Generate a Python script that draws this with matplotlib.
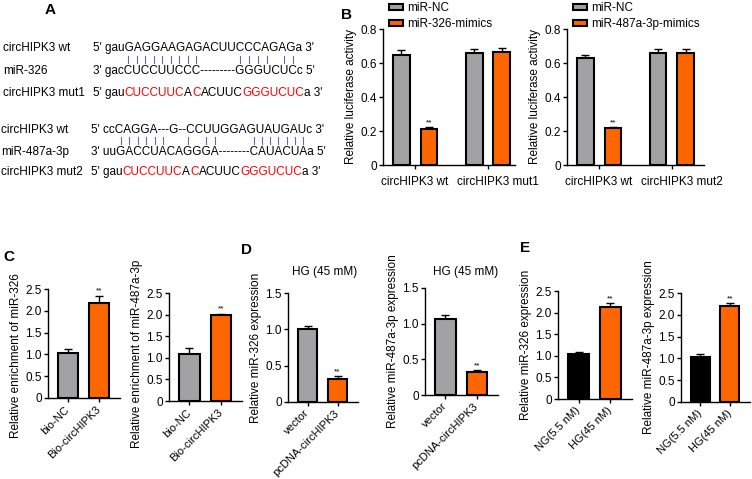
import matplotlib
matplotlib.use("Agg")
import numpy as np
import matplotlib.pyplot as plt
import matplotlib.transforms as mtransforms
from matplotlib.font_manager import FontProperties
from matplotlib.patches import Patch

plt.rcParams['font.family'] = ['Liberation Sans', 'DejaVu Sans']
plt.rcParams['font.size'] = 8.5

W, H = 752, 479
GRAY = '#a2a2a6'
ORANGE = '#ff6600'
BLACK = '#000000'
RED = '#ff0000'
TICKBLUE = '#5b6ea6'

# ---- panel A: sequences ----
seq1_wt = "5' gauGAGGAAGAGACUUCCCAGAGa 3'"
seq1_mir = "3' gacCUCCUUCCC---------GGGUCUCc 5'"
seq1_mut = [("5' gau", BLACK), ("CUCCUUC", RED), ("A", BLACK), ("C", RED),
            ("ACUUC", BLACK), ("GGGUCUC", RED), ("a 3'", BLACK)]
pairs1 = [6, 7, 8, 9, 10, 11, 12, 13, 14, 24, 25, 26, 27, 29, 30]

seq2_wt = "5' ccCAGGA---G--CCUUGGAGUAUGAUc 3'"
seq2_mir = "3' uuGACCUACAGGGA--------CAUACUAa 5'"
seq2_mut = seq1_mut
pairs2 = [5, 6, 7, 8, 9, 10, 13, 15, 16, 25, 26, 27, 28, 29, 30, 31]

# ---- panel B: luciferase ----
b_groups1 = ['circHIPK3 wt', 'circHIPK3 mut1']
b_groups2 = ['circHIPK3 wt', 'circHIPK3 mut2']
b1_nc = [0.65, 0.66]
b1_nc_err = [0.025, 0.025]
b1_mim = [0.21, 0.665]
b1_mim_err = [0.015, 0.025]
b2_nc = [0.63, 0.66]
b2_nc_err = [0.02, 0.025]
b2_mim = [0.215, 0.66]
b2_mim_err = [0.01, 0.025]

# ---- panel C: pull-down ----
c_labels = ['bio-NC', 'Bio-circHIPK3']
c1_vals = [1.04, 2.18]
c1_err = [0.08, 0.16]
c2_vals = [1.09, 2.0]
c2_err = [0.13, 0.02]

# ---- panel D: overexpression ----
d_labels = ['vector', 'pcDNA-circHIPK3']
d1_vals = [1.01, 0.31]
d1_err = [0.03, 0.045]
d2_vals = [1.06, 0.32]
d2_err = [0.055, 0.03]

# ---- panel E: glucose ----
e_labels = ['NG(5.5 nM)', 'HG(45 nM)']
e1_vals = [1.04, 2.12]
e1_err = [0.04, 0.1]
e2_vals = [1.04, 2.2]
e2_err = [0.05, 0.06]

fig = plt.figure(figsize=(W / 100, H / 100), dpi=100)
renderer = fig.canvas.get_renderer()
seq_font = FontProperties(family='Liberation Sans', size=8.5)


def fx(px):
    return px / W


def fy(py):
    return 1 - py / H


def text_w(s):
    w, h, d = renderer.get_text_width_height_descent(s, seq_font, ismath=False)
    return w


def seq_line(x, y, segments):
    pos = x
    for s, col in segments:
        fig.text(fx(pos), fy(y), s, color=col, fontproperties=seq_font,
                 ha='left', va='center')
        pos += text_w(s)


def pair_ticks(x, y0, y1, ref, idx):
    for i in idx:
        cx = x + text_w(ref[:i]) + text_w(ref[i]) / 2
        fig.add_artist(plt.Line2D([fx(cx), fx(cx)], [fy(y0), fy(y1)],
                                  color=TICKBLUE, lw=0.8))


fig.text(fx(50), fy(10), 'A', fontsize=11, fontweight='bold', ha='center', va='center')
fig.text(fx(3), fy(48), 'circHIPK3 wt', fontproperties=seq_font, va='center')
seq_line(93, 48, [(seq1_wt, BLACK)])
pair_ticks(93, 56, 63, seq1_mir, pairs1)
fig.text(fx(3), fy(71), 'miR-326', fontproperties=seq_font, va='center')
seq_line(93, 71, [(seq1_mir, BLACK)])
fig.text(fx(3), fy(93), 'circHIPK3 mut1', fontproperties=seq_font, va='center')
seq_line(93, 93, seq1_mut)

fig.text(fx(1), fy(130), 'circHIPK3 wt', fontproperties=seq_font, va='center')
seq_line(91, 130, [(seq2_wt, BLACK)])
pair_ticks(91, 137, 144, seq2_mir, pairs2)
fig.text(fx(1), fy(152), 'miR-487a-3p', fontproperties=seq_font, va='center')
seq_line(91, 152, [(seq2_mir, BLACK)])
fig.text(fx(1), fy(172), 'circHIPK3 mut2', fontproperties=seq_font, va='center')
seq_line(91, 172, seq2_mut)


def make_ax(x0, yt, x1, yb):
    ax = fig.add_axes([fx(x0), fy(yb), (x1 - x0) / W, (yb - yt) / H])
    for s in ['top', 'right']:
        ax.spines[s].set_visible(False)
    for s in ['left', 'bottom']:
        ax.spines[s].set_linewidth(1.0)
    ax.tick_params(length=3, width=1.0, labelsize=8.5, pad=1.5)
    ax.yaxis.set_major_formatter(plt.FuncFormatter(
        lambda v, p: '0' if v == 0 else f'{v:.1f}'))
    return ax


def stars(ax, x, top):
    ax.text(x, top, '**', ha='center', va='bottom', fontsize=6)


def grouped(ax, groups, nc, nc_err, mim, mim_err, ylabel, xlim):
    x = np.arange(len(groups))
    off, w = 0.19, 0.23
    ax.bar(x - off, nc, w, color=GRAY, edgecolor='black', linewidth=1.5, zorder=3)
    ax.bar(x + off, mim, w, color=ORANGE, edgecolor='black', linewidth=1.5, zorder=3)
    ax.errorbar(x - off, nc, yerr=[np.zeros(len(nc)), nc_err], fmt='none',
                ecolor='black', elinewidth=1, capsize=3, capthick=1, zorder=2)
    ax.errorbar(x + off, mim, yerr=[np.zeros(len(mim)), mim_err], fmt='none',
                ecolor='black', elinewidth=1, capsize=3, capthick=1, zorder=2)
    stars(ax, x[0] + off, mim[0] + mim_err[0] + 0.005)
    ax.set_xticks(x)
    ax.set_xticklabels(groups)
    ax.tick_params(axis='x', pad=5)
    # second group label sits a little right of its tick, as in the figure
    lab = ax.get_xticklabels()[1]
    lab.set_transform(lab.get_transform() +
                      mtransforms.ScaledTranslation(0.1, 0, fig.dpi_scale_trans))
    ax.set_xlim(*xlim)
    ax.set_ylim(0, 0.8)
    ax.set_yticks([0, 0.2, 0.4, 0.6, 0.8])
    ax.set_ylabel(ylabel, labelpad=2)


def pair(ax, labels, vals, err, colors, ylim, yticks, ylabel, label_y=None):
    x = np.arange(len(labels))
    ax.bar(x, vals, 0.65, color=colors, edgecolor='black', linewidth=1.5, zorder=3)
    ax.errorbar(x, vals, yerr=[np.zeros(len(vals)), err], fmt='none',
                ecolor='black', elinewidth=1, capsize=3, capthick=1, zorder=2)
    stars(ax, x[1], vals[1] + err[1] + ylim * 0.01)
    ax.set_xticks(x)
    ax.set_xticklabels(labels, rotation=45, ha='right', va='center',
                       rotation_mode='anchor', fontsize=8)
    ax.tick_params(axis='x', pad=4)
    ax.set_xlim(-0.65, 1.68)
    ax.set_ylim(0, ylim)
    ax.set_yticks(yticks)
    ax.set_ylabel(ylabel, labelpad=2)
    if label_y is not None:
        ax.yaxis.label.set_y(label_y)


# B
fig.text(fx(347), fy(15), 'B', fontsize=11, fontweight='bold', ha='center', va='center')
axb1 = make_ax(383, 29, 515, 165)
grouped(axb1, b_groups1, b1_nc, b1_nc_err, b1_mim, b1_mim_err,
        'Relative luciferase activity', (-0.44, 1.37))
axb2 = make_ax(567, 29, 704, 165)
grouped(axb2, b_groups2, b2_nc, b2_nc_err, b2_mim, b2_mim_err,
        'Relative luciferase activity', (-0.44, 1.44))

for lx, name in [(389, 'miR-326-mimics'), (573, 'miR-487a-3p-mimics')]:
    handles = [Patch(facecolor=GRAY, edgecolor='black', linewidth=1.5),
               Patch(facecolor=ORANGE, edgecolor='black', linewidth=1.5)]
    fig.legend(handles, ['miR-NC', name], loc='upper left',
               bbox_to_anchor=(fx(lx), fy(2)), frameon=False, fontsize=8.5,
               handlelength=1.2, handleheight=0.35, handletextpad=0.3,
               labelspacing=0.35, borderpad=0, borderaxespad=0)

# C
fig.text(fx(9), fy(257), 'C', fontsize=11, fontweight='bold', ha='center', va='center')
axc1 = make_ax(48, 289, 120, 398)
pair(axc1, c_labels, c1_vals, c1_err, [GRAY, ORANGE], 2.5,
     [0, 0.5, 1.0, 1.5, 2.0, 2.5], 'Relative enrichment of miR-326', label_y=0.39)
axc2 = make_ax(169, 293, 242, 401)
pair(axc2, c_labels, c2_vals, c2_err, [GRAY, ORANGE], 2.5,
     [0, 0.5, 1.0, 1.5, 2.0, 2.5], 'Relative enrichment of miR-487a-3p', label_y=0.44)

# D
fig.text(fx(247), fy(250), 'D', fontsize=11, fontweight='bold', ha='center', va='center')
axd1 = make_ax(288, 293, 358, 402)
pair(axd1, d_labels, d1_vals, d1_err, [GRAY, ORANGE], 1.5,
     [0, 0.5, 1.0, 1.5], 'Relative miR-326 expression')
axd2 = make_ax(425, 288, 498, 395)
pair(axd2, d_labels, d2_vals, d2_err, [GRAY, ORANGE], 1.5,
     [0, 0.5, 1.0, 1.5], 'Relative miR-487a-3p expression')
fig.text(fx(325), fy(272), 'HG (45 mM)', ha='center', va='center')
fig.text(fx(466), fy(272), 'HG (45 mM)', ha='center', va='center')

# E
fig.text(fx(525), fy(248), 'E', fontsize=11, fontweight='bold', ha='center', va='center')
axe1 = make_ax(558, 291, 632, 399)
pair(axe1, e_labels, e1_vals, e1_err, [BLACK, ORANGE], 2.5,
     [0, 0.5, 1.0, 1.5, 2.0, 2.5], 'Relative miR-326 expression')
axe2 = make_ax(681, 293, 750, 402)
pair(axe2, e_labels, e2_vals, e2_err, [BLACK, ORANGE], 2.5,
     [0, 0.5, 1.0, 1.5, 2.0, 2.5], 'Relative miR-487a-3p expression')

fig.savefig('out.png', dpi=100)
